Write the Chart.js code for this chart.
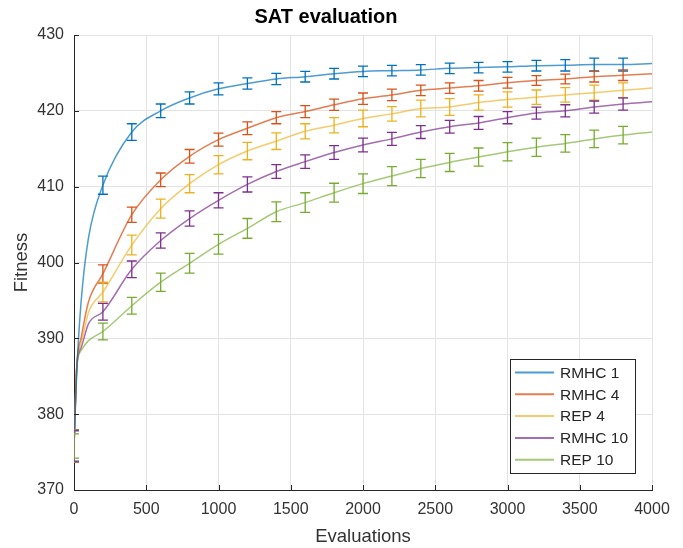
<!DOCTYPE html>
<html>
<head>
<meta charset="utf-8">
<script src="https://cdn.jsdelivr.net/npm/chart.js@4"></script>
<style>
  html, body { margin: 0; padding: 0; background: #fff; }
  #wrap { width: 683px; height: 548px; }
</style>
</head>
<body>
<div id="wrap"><canvas id="satChart" width="683" height="548"></canvas></div>
<script>
// evaluations where the runs were sampled
const evals = [0, 20, 50, 100, 200, 400, 600, 800, 1000, 1200, 1400, 1600, 1800,
  2000, 2200, 2400, 2600, 2800, 3000, 3200, 3400, 3600, 3800, 4000];

const seriesNames = ['RMHC 1', 'RMHC 4', 'REP 4', 'RMHC 10', 'REP 10'];

// mean fitness per series
const rmhc1 = [375.8, 386.0, 395.0, 403.2, 410.2, 417.2, 420.0, 421.7, 422.9, 423.6, 424.2, 424.5, 424.9,
  425.2, 425.3, 425.4, 425.6, 425.7, 425.8, 425.95, 426.0, 426.1, 426.1, 426.25];
const rmhc4 = [375.8, 386.5, 390.1, 394.8, 398.5, 406.3, 410.9, 414.0, 416.2, 417.7, 419.1, 419.9, 420.8,
  421.6, 422.1, 422.7, 423.0, 423.3, 423.7, 424.0, 424.2, 424.5, 424.7, 424.9];
const rep4 = [375.8, 386.5, 389.3, 393.4, 396.1, 402.3, 407.1, 410.4, 412.9, 414.7, 416.0, 417.3, 418.1,
  419.0, 419.6, 420.3, 420.5, 421.1, 421.5, 421.8, 422.1, 422.4, 422.7, 423.0];
const rmhc10 = [375.8, 386.5, 388.8, 391.9, 393.5, 399.1, 402.9, 405.8, 408.2, 410.3, 412.0, 413.3, 414.5,
  415.5, 416.3, 417.2, 417.9, 418.4, 419.1, 419.7, 420.0, 420.5, 420.9, 421.2];
const rep10 = [375.8, 386.3, 388.4, 389.7, 390.9, 394.3, 397.4, 399.9, 402.4, 404.5, 406.7, 407.9, 409.2,
  410.4, 411.4, 412.4, 413.2, 413.9, 414.6, 415.2, 415.7, 416.3, 416.8, 417.2];

// error bar half-widths (null = no bar drawn at that point)
const rmhc1Err = [2.0, null, null, null, 1.2, 1.1, 0.9, 0.8, 0.8, 0.75, 0.75, 0.7, 0.7,
  0.7, 0.7, 0.7, 0.7, 0.7, 0.7, 0.7, 0.75, 0.85, 0.85, null];
const rmhc4Err = [2.1, null, null, null, 1.2, 1.0, 0.9, 0.9, 0.85, 0.85, 0.8, 0.8, 0.75,
  0.75, 0.75, 0.7, 0.7, 0.7, 0.7, 0.65, 0.65, 0.7, 0.7, null];
const rep4Err = [2.15, null, null, null, 1.3, 1.3, 1.25, 1.2, 1.2, 1.15, 1.1, 1.0, 1.0,
  1.1, 0.95, 1.1, 1.1, 1.0, 1.0, 0.95, 0.95, 1.0, 1.0, null];
const rmhc10Err = [2.1, null, null, null, 1.1, 1.1, 1.0, 1.0, 1.0, 1.0, 0.9, 0.9, 0.9,
  0.9, 0.85, 0.85, 0.85, 0.85, 0.8, 0.8, 0.8, 0.8, 0.8, null];
const rep10Err = [1.6, null, null, null, 1.1, 1.1, 1.2, 1.3, 1.3, 1.3, 1.3, 1.3, 1.25,
  1.3, 1.25, 1.2, 1.2, 1.2, 1.2, 1.2, 1.15, 1.15, 1.15, null];

const xTicks = [0, 500, 1000, 1500, 2000, 2500, 3000, 3500, 4000];
const yTicks = [370, 380, 390, 400, 410, 420, 430];

const colors = ['#0072BD', '#D95319', '#EDB120', '#7E2F8E', '#77AC30'];
const lineColors = ['rgba(0,114,189,0.7)', 'rgba(217,83,25,0.75)', 'rgba(237,177,32,0.65)',
  'rgba(126,47,142,0.7)', 'rgba(119,172,48,0.65)'];
const means = [rmhc1, rmhc4, rep4, rmhc10, rep10];
const errs = [rmhc1Err, rmhc4Err, rep4Err, rmhc10Err, rep10Err];

const FONT = '"Liberation Sans", Arial, sans-serif';
const AXIS = '#262626';

// vertical error bars with caps, placed through the scales
const errorBars = {
  id: 'errorBars',
  afterDatasetsDraw(chart) {
    const { ctx, chartArea, scales: { x, y } } = chart;
    ctx.save();
    ctx.beginPath();
    ctx.rect(chartArea.left, chartArea.top, chartArea.width, chartArea.height);
    ctx.clip();
    ctx.lineWidth = 1.3;
    chart.data.datasets.forEach((ds, i) => {
      ctx.strokeStyle = colors[i];
      ds.data.forEach((v, j) => {
        const e = errs[i][j];
        if (e == null) return;
        const px = x.getPixelForValue(evals[j]);
        const top = y.getPixelForValue(v + e);
        const bot = y.getPixelForValue(v - e);
        ctx.beginPath();
        ctx.moveTo(px, top); ctx.lineTo(px, bot);
        ctx.moveTo(px - 5, top); ctx.lineTo(px + 5, top);
        ctx.moveTo(px - 5, bot); ctx.lineTo(px + 5, bot);
        ctx.stroke();
      });
    });
    ctx.restore();
  }
};

// inward tick marks + legend box inside the plot
const decorations = {
  id: 'decorations',
  afterDraw(chart) {
    const { ctx, chartArea: a, scales: { x, y } } = chart;
    ctx.save();
    ctx.strokeStyle = AXIS;
    ctx.lineWidth = 1;
    ctx.beginPath();
    xTicks.forEach(t => {
      const px = Math.round(x.getPixelForValue(t)) + 0.5;
      ctx.moveTo(px, a.bottom); ctx.lineTo(px, a.bottom - 5);
    });
    yTicks.forEach(t => {
      const py = Math.round(y.getPixelForValue(t)) + 0.5;
      ctx.moveTo(a.left, py); ctx.lineTo(a.left + 5, py);
    });
    ctx.stroke();

    // legend
    const w = 125, h = 114;
    const lx = a.right - 17 - w, ly = a.bottom - 17 - h;
    ctx.fillStyle = '#fff';
    ctx.fillRect(lx, ly, w, h);
    ctx.strokeStyle = AXIS;
    ctx.strokeRect(Math.round(lx) + 0.5, Math.round(ly) + 0.5, w, h);
    ctx.font = '15.5px ' + FONT;
    ctx.textBaseline = 'middle';
    ctx.textAlign = 'left';
    seriesNames.forEach((name, i) => {
      const ry = ly + 13.5 + i * 21.8;
      ctx.strokeStyle = lineColors[i];
      ctx.lineWidth = 2;
      ctx.beginPath();
      ctx.moveTo(lx + 5, ry); ctx.lineTo(lx + 44, ry);
      ctx.stroke();
      ctx.fillStyle = '#262626';
      ctx.fillText(name, lx + 50, ry + 1);
    });
    ctx.restore();
  }
};

new Chart(document.getElementById('satChart').getContext('2d'), {
  type: 'line',
  data: {
    labels: evals,
    datasets: seriesNames.map((name, i) => ({
      label: name,
      data: means[i],
      borderColor: lineColors[i],
      borderWidth: 1.5,
      pointRadius: 0,
      fill: false,
      cubicInterpolationMode: 'monotone'
    }))
  },
  options: {
    responsive: false,
    animation: false,
    layout: { padding: { left: 0, right: 31, top: 0, bottom: 0 } },
    plugins: {
      legend: { display: false },
      tooltip: { enabled: false },
      title: {
        display: true,
        text: 'SAT evaluation',
        color: '#000',
        font: { family: FONT, size: 20, weight: 'bold' },
        padding: { top: 5.5, bottom: 5.5 }
      }
    },
    scales: {
      x: {
        type: 'linear',
        min: 0, max: 4000,
        afterBuildTicks: s => { s.ticks = xTicks.map(v => ({ value: v })); },
        afterFit: s => { s.height = 58; },
        grid: { color: '#e3e3e3', drawTicks: false },
        border: { color: AXIS, width: 1 },
        ticks: { color: '#333', padding: 10, maxRotation: 0, font: { family: FONT, size: 16 },
          callback: v => String(v) },
        title: { display: true, text: 'Evaluations', color: '#333', padding: { top: 0, bottom: 0 },
          font: { family: FONT, size: 18.5 } }
      },
      y: {
        type: 'linear',
        min: 370, max: 430,
        afterBuildTicks: s => { s.ticks = yTicks.map(v => ({ value: v })); },
        afterFit: s => { s.width = 74; },
        grid: { color: '#e3e3e3', drawTicks: false },
        border: { color: AXIS, width: 1 },
        ticks: { color: '#333', padding: 10, font: { family: FONT, size: 16 },
          callback: v => String(v) },
        title: { display: true, text: 'Fitness', color: '#333', padding: { top: 11, bottom: 0 },
          font: { family: FONT, size: 18.5 } }
      }
    }
  },
  plugins: [errorBars, decorations]
});
</script>
</body>
</html>
